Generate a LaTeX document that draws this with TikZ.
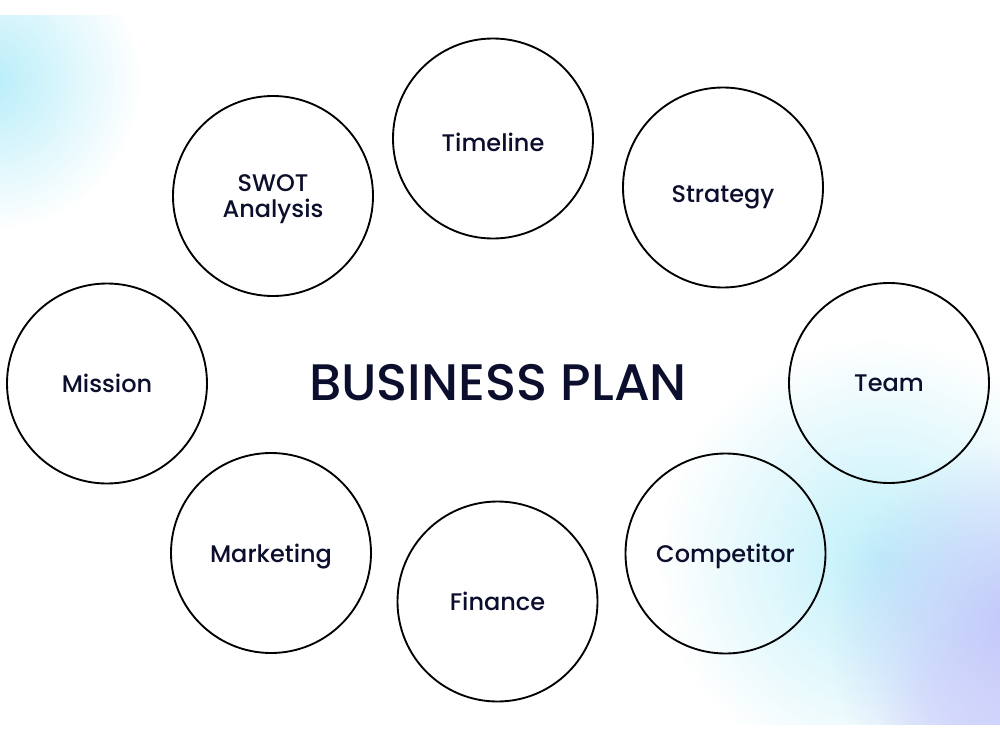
\documentclass[tikz,border=0pt]{standalone}
\usepackage{fontspec}
\setmainfont{Poppins Medium}
\usetikzlibrary{fadings}
\tikzfading[name=blobfade, inner color=transparent!0, outer color=transparent!100]
\definecolor{ink}{HTML}{0B0E2C}
\definecolor{cyanblob}{HTML}{B8EEFA}
\definecolor{purpblob}{HTML}{BCC0FA}
\tikzset{
  topic/.style={circle, draw=black, line width=1.4pt, minimum size=150pt, inner sep=0pt,
    text=ink, font=\fontsize{18}{20}\selectfont, align=center, text depth=0pt},
  title/.style={text=ink, font=\fontsize{38.5}{40}\selectfont, text depth=0pt}
}
\begin{document}
\begin{tikzpicture}[x=0.75pt,y=-0.75pt]
\useasboundingbox (0,0) rectangle (1000,732);
\fill[white] (0,0) rectangle (1000,732);
\begin{scope}
  \clip (0,15) rectangle (1000,724);
  \fill[cyanblob, path fading=blobfade] (-10,80) circle (150);
  \fill[cyanblob!90, path fading=blobfade] (880,560) circle (220);
  \fill[purpblob, path fading=blobfade] (1030,640) circle (200);
  \fill[purpblob!70!white, path fading=blobfade] (1000,730) circle (120);
\end{scope}
\node[title] (center) at (498,382) {BUSINESS PLAN};
\node[topic, text height=19pt] (timeline) at (493,138.5) {Timeline};
\node[topic] (swot) at (273,196) {SWOT\\Analysis};
\node[topic, text height=22pt] (strategy) at (723,187.5) {Strategy};
\node[topic] (mission) at (107,383.5) {Mission};
\node[topic] (team) at (889,383) {Team};
\node[topic] (marketing) at (271,553) {Marketing};
\node[topic] (finance) at (497.5,601.5) {Finance};
\node[topic] (competitor) at (725.5,553.5) {Competitor};
\end{tikzpicture}
\end{document}
